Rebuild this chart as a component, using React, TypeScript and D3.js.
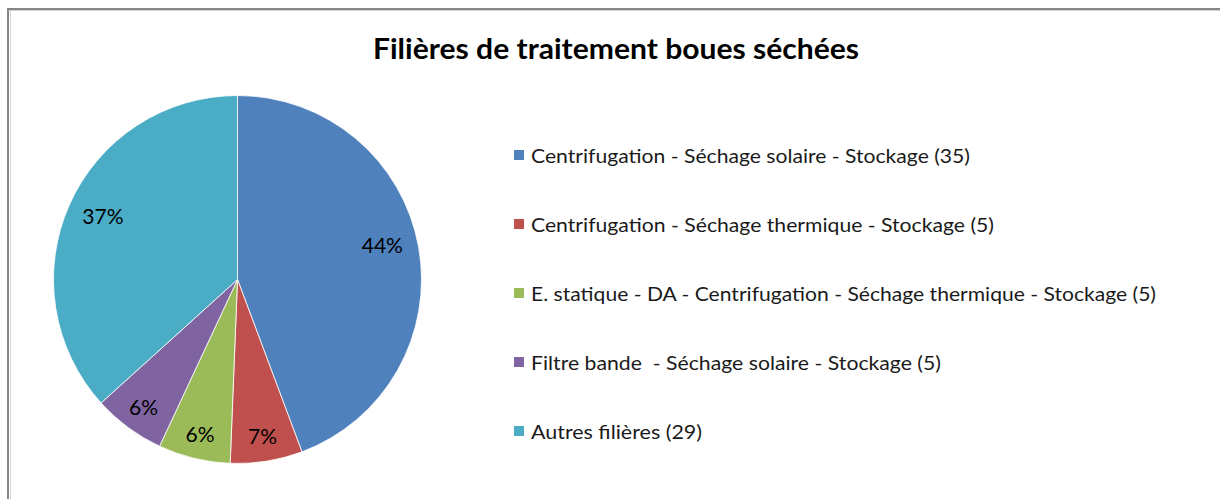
import React from "react";
import * as d3 from "d3";

const title = "Filières de traitement boues séchées";
const categories = [
  "Centrifugation - Séchage solaire - Stockage (35)",
  "Centrifugation - Séchage thermique - Stockage (5)",
  "E. statique - DA - Centrifugation - Séchage thermique - Stockage (5)",
  "Filtre bande  - Séchage solaire - Stockage (5)",
  "Autres filières (29)",
];
const values = [35, 5, 5, 5, 29];
const percentLabels = ["44%", "7%", "6%", "6%", "37%"];
const colors = ["#4F81BD", "#C0504D", "#9BBB59", "#8064A2", "#4BACC6"];

const W = 1220;
const H = 499;
const FONT = "Lato, 'Open Sans', 'DejaVu Sans', sans-serif";
// layout nudges (Excel best-fit label placement)
const labelNudgeY = [-9, 0, 0, 0, -4];

export default function App() {
  const cx = 237.5;
  const cy = 279.5;
  const r = 184;
  const total = d3.sum(values);
  const pie = d3.pie<number>().sort(null).value((d) => d).startAngle(0).endAngle(2 * Math.PI);
  const arcs = pie(values);
  const arc = d3.arc<d3.PieArcDatum<number>>().innerRadius(0).outerRadius(r);

  const legendY = d3.scaleLinear().domain([0, categories.length - 1]).range([155, 431]);
  const legendWidths = [439, 463, 625, 410, 171];

  return (
    <svg
      width={W}
      height={H}
      style={{ position: "absolute", left: 0, top: 0, background: "#fff" }}
      fontFamily={FONT}
    >
      <rect x={0} y={0} width={W} height={H} fill="#fff" />
      <line x1={8} y1={10.5} x2={W} y2={10.5} stroke="#d4d4d4" strokeWidth={1} />
      <line x1={10.5} y1={10} x2={10.5} y2={H} stroke="#d4d4d4" strokeWidth={1} />
      <line x1={8} y1={9} x2={W} y2={9} stroke="#868686" strokeWidth={2} />
      <line x1={8} y1={8} x2={8} y2={H} stroke="#868686" strokeWidth={2} />

      <text
        x={616}
        y={59}
        textAnchor="middle"
        fontWeight="bold"
        fontSize={28}
        fill="#000"
        textLength={486}
        lengthAdjust="spacingAndGlyphs"
      >
        {title}
      </text>

      <g transform={`translate(${cx},${cy})`}>
        {arcs.map((a, i) => (
          <path key={i} d={arc(a) || ""} fill={colors[i]} stroke="#fff" strokeWidth={0.8} />
        ))}
        {arcs.map((a, i) => {
          const frac = values[i] / total;
          const lr = frac < 0.1 ? 0.86 * r : 0.8 * r;
          const [lx, ly] = d3.arc<d3.PieArcDatum<number>>().innerRadius(lr).outerRadius(lr).centroid(a);
          return (
            <text
              key={i}
              x={lx}
              y={ly + labelNudgeY[i]}
              textAnchor="middle"
              dominantBaseline="central"
              fontSize={21}
              fill="#000"
            >
              {percentLabels[i]}
            </text>
          );
        })}
      </g>

      {categories.map((c, i) => (
        <g key={i}>
          <rect x={514} y={legendY(i) - 5} width={10} height={10} fill={colors[i]} />
          <text
            x={531}
            y={legendY(i)}
            dominantBaseline="central"
            fontSize={19}
            fill="#1a1a1a"
            textLength={legendWidths[i]}
            lengthAdjust="spacingAndGlyphs"
            style={{ whiteSpace: "pre" }}
          >
            {c}
          </text>
        </g>
      ))}
    </svg>
  );
}
